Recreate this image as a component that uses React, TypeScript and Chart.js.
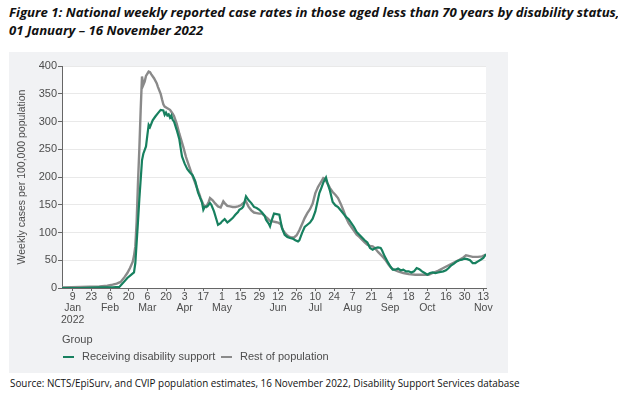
import React, { useEffect, useRef } from "react";
import { Chart, registerables } from "chart.js";
Chart.register(...registerables);

// Day index: 0 = 1 January 2022
const tickDays = [8, 22, 36, 50, 64, 78, 92, 106, 120, 134, 148, 162, 176, 190, 204, 218, 232, 246, 260, 274, 288, 302, 316];
const tickDayLabels = ["9", "23", "6", "20", "6", "20", "3", "17", "1", "15", "29", "12", "26", "10", "24", "7", "21", "4", "18", "2", "16", "30", "13"];
const tickMonthLabels = ["Jan", "", "Feb", "", "Mar", "", "Apr", "", "May", "", "", "Jun", "", "Jul", "", "Aug", "", "Sep", "", "Oct", "", "", "Nov"];
const tickYearLabels = ["2022"];
const yTickValues = [0, 50, 100, 150, 200, 250, 300, 350, 400];

const seriesNames = ["Receiving disability support", "Rest of population"];

const disabilityDays = [0, 14, 28, 38, 43, 45, 49, 52, 54, 55, 57, 58, 60, 61, 63, 64, 65, 66, 68, 70, 72, 74, 76, 77, 78, 79, 80, 81, 82, 83, 84, 86, 88, 89, 90, 92, 94, 96, 98, 100, 102, 104, 105, 106, 107, 109, 111, 112, 114, 116, 117, 119, 120, 122, 124, 126, 128, 130, 132, 133, 135, 136, 138, 140, 142, 144, 146, 148, 150, 152, 153, 155, 156, 157, 159, 161, 163, 164, 165, 167, 169, 171, 173, 175, 177, 178, 180, 182, 184, 186, 188, 190, 192, 193, 194, 196, 198, 199, 201, 203, 205, 207, 209, 211, 213, 215, 217, 219, 221, 223, 225, 227, 229, 231, 233, 235, 237, 239, 240, 242, 244, 246, 248, 250, 252, 254, 256, 258, 260, 262, 264, 266, 268, 270, 272, 274, 276, 278, 280, 282, 284, 286, 288, 290, 292, 294, 296, 298, 300, 302, 304, 306, 308, 310, 312, 314, 316, 318];
const disabilityValues = [0, 0, 1, 1, 2, 7, 18, 24, 28, 45, 120, 160, 230, 242, 255, 275, 294, 290, 302, 309, 315, 321, 320, 312, 316, 311, 313, 307, 311, 303, 300, 285, 268, 252, 237, 224, 214, 208, 203, 192, 172, 160, 154, 141, 146, 147, 153, 150, 138, 122, 114, 117, 120, 124, 118, 122, 126, 132, 137, 141, 144, 147, 165, 158, 153, 146, 144, 141, 136, 130, 123, 116, 111, 120, 134, 133, 132, 120, 108, 96, 92, 90, 89, 86, 84, 86, 99, 110, 114, 118, 125, 138, 160, 171, 177, 190, 199, 190, 175, 155, 149, 146, 140, 134, 128, 124, 117, 110, 101, 96, 91, 86, 82, 72, 69, 72, 73, 72, 68, 57, 48, 40, 33, 33, 35, 32, 33, 30, 30, 28, 30, 36, 34, 30, 27, 24, 27, 28, 27, 28, 29, 30, 32, 36, 41, 44, 48, 50, 51, 53, 52, 50, 45, 45, 48, 51, 54, 61];

const restDays = [0, 14, 28, 34, 38, 41, 44, 47, 49, 51, 53, 54, 55, 56, 57, 58, 59, 60, 61, 62, 63, 65, 66, 67, 69, 71, 72, 74, 75, 76, 77, 79, 81, 83, 84, 86, 88, 89, 91, 93, 95, 97, 99, 101, 103, 104, 106, 108, 110, 111, 113, 115, 117, 119, 121, 122, 124, 126, 128, 130, 132, 134, 136, 138, 140, 142, 144, 146, 148, 150, 152, 154, 156, 158, 160, 162, 164, 166, 168, 170, 172, 174, 176, 178, 180, 182, 184, 186, 188, 190, 192, 194, 196, 197, 199, 201, 203, 205, 207, 209, 211, 213, 215, 217, 219, 221, 223, 225, 227, 229, 231, 233, 235, 237, 239, 241, 243, 245, 247, 249, 252, 256, 260, 265, 270, 275, 278, 282, 286, 290, 294, 298, 301, 303, 305, 308, 312, 315, 318];
const restValues = [1, 2, 3, 4, 6, 8, 11, 20, 27, 36, 47, 58, 75, 120, 190, 250, 320, 381, 366, 372, 382, 390, 389, 385, 378, 369, 362, 350, 340, 331, 327, 324, 321, 314, 310, 296, 278, 270, 254, 236, 222, 208, 195, 182, 169, 162, 150, 146, 155, 162, 158, 152, 147, 145, 156, 153, 148, 147, 146, 146, 147, 149, 153, 156, 146, 140, 136, 135, 134, 134, 130, 126, 121, 120, 119, 118, 115, 103, 97, 93, 91, 91, 95, 104, 115, 126, 135, 142, 152, 171, 182, 190, 198, 197, 189, 180, 173, 168, 162, 152, 140, 127, 117, 110, 103, 96, 92, 87, 82, 78, 76, 75, 71, 65, 60, 55, 49, 42, 36, 33, 30, 27, 25, 24, 24, 24, 27, 31, 36, 41, 46, 51, 55, 59, 58, 56, 56, 57, 60];

const GREEN = "#17805f";
const GREY = "#8a8a8a";

function toPoints(days: number[], vals: number[]) {
  return days.map((d, i) => ({ x: d, y: vals[i] }));
}

const plotBg = {
  id: "plotBg",
  beforeDraw(chart: any) {
    const { ctx, chartArea } = chart;
    ctx.save();
    ctx.fillStyle = "#ffffff";
    ctx.fillRect(chartArea.left, chartArea.top, chartArea.right - chartArea.left, chartArea.bottom - chartArea.top);
    ctx.restore();
  },
};

export default function App() {
  const ref = useRef<HTMLCanvasElement>(null);
  useEffect(() => {
    if (!ref.current) return;
    const chart = new Chart(ref.current, {
      type: "line",
      data: {
        datasets: [
          {
            label: seriesNames[0],
            data: toPoints(disabilityDays, disabilityValues),
            borderColor: GREEN,
            backgroundColor: GREEN,
            borderWidth: 2.2,
            pointRadius: 0,
            tension: 0,
          },
          {
            label: seriesNames[1],
            data: toPoints(restDays, restValues),
            borderColor: GREY,
            backgroundColor: GREY,
            borderWidth: 2.4,
            pointRadius: 0,
            tension: 0,
          },
        ],
      },
      options: {
        animation: false,
        responsive: false,
        maintainAspectRatio: false,
        layout: { padding: { left: 0, top: 14, right: 22, bottom: 0 } },
        plugins: { legend: { display: false }, tooltip: { enabled: false } },
        scales: {
          x: {
            type: "linear",
            min: 0,
            max: 318,
            afterFit: (s: any) => { s.height = 85; },
            afterBuildTicks: (s: any) => { s.ticks = tickDays.map((v) => ({ value: v })); },
            border: { color: "#666666", width: 1 },
            grid: { drawOnChartArea: false, tickLength: 3, tickColor: "#666666" },
            ticks: {
              autoSkip: false,
              maxRotation: 0,
              padding: 0,
              color: "#4d4d4d",
              font: { family: "'Liberation Sans', Arial, sans-serif", size: 10.5, lineHeight: 1.1 },
              callback: (v: any) => {
                const i = tickDays.indexOf(Number(v));
                if (i < 0) return "";
                const lines = [tickDayLabels[i]];
                if (tickMonthLabels[i]) lines.push(tickMonthLabels[i]);
                if (i === 0) lines.push(tickYearLabels[0]);
                return lines;
              },
            },
          },
          y: {
            min: 0,
            max: 400,
            afterFit: (s: any) => { s.width = 53; },
            afterBuildTicks: (s: any) => { s.ticks = yTickValues.map((v) => ({ value: v })); },
            border: { color: "#666666", width: 1 },
            grid: { color: "#e9e9e9", lineWidth: 1, tickLength: 4, tickColor: "#666666" },
            ticks: {
              padding: 1,
              color: "#4d4d4d",
              font: { family: "'Liberation Sans', Arial, sans-serif", size: 11 },
            },
            title: {
              display: true,
              text: "Weekly cases per 100,000 population",
              color: "#4d4d4d",
              padding: { top: 7, bottom: 0 },
              font: { family: "'Liberation Sans', Arial, sans-serif", size: 10.5, lineHeight: 1.2 },
            },
          },
        },
      },
      plugins: [plotBg],
    } as any);
    return () => chart.destroy();
  }, []);

  const sans = "'Liberation Sans', Arial, sans-serif";
  return (
    <div style={{ position: "fixed", left: 0, top: 0, width: 618, height: 402, background: "#ffffff", overflow: "hidden" }}>
      <div style={{ position: "absolute", left: 9, top: 3, fontFamily: "'Open Sans', sans-serif", fontWeight: 700, fontStyle: "italic", fontSize: 13.2, lineHeight: "18px", color: "#111", whiteSpace: "nowrap" }}>
        <div>Figure 1: National weekly reported case rates in those aged less than 70 years by disability status,</div>
        <div>01 January – 16 November 2022</div>
      </div>
      <div style={{ position: "absolute", left: 9, top: 52, width: 499, height: 321, background: "#f1f2f4" }}>
        <canvas ref={ref} width={499} height={321} style={{ display: "block", width: 499, height: 321 }} />
        <div style={{ position: "absolute", left: 53, top: 281, fontFamily: sans, fontSize: 11, color: "#4d4d4d" }}>Group</div>
        <div style={{ position: "absolute", left: 54, top: 304, width: 11, height: 2.4, background: GREEN }} />
        <div style={{ position: "absolute", left: 73, top: 298, fontFamily: sans, fontSize: 11, color: "#4d4d4d" }}>{seriesNames[0]}</div>
        <div style={{ position: "absolute", left: 212, top: 304, width: 11, height: 2.4, background: GREY }} />
        <div style={{ position: "absolute", left: 231, top: 298, fontFamily: sans, fontSize: 11, color: "#4d4d4d" }}>{seriesNames[1]}</div>
      </div>
      <div style={{ position: "absolute", left: 10, top: 376, fontFamily: "'Open Sans', sans-serif", fontSize: 9.9, color: "#111", whiteSpace: "nowrap" }}>
        Source: NCTS/EpiSurv, and CVIP population estimates, 16 November 2022, Disability Support Services database
      </div>
    </div>
  );
}
